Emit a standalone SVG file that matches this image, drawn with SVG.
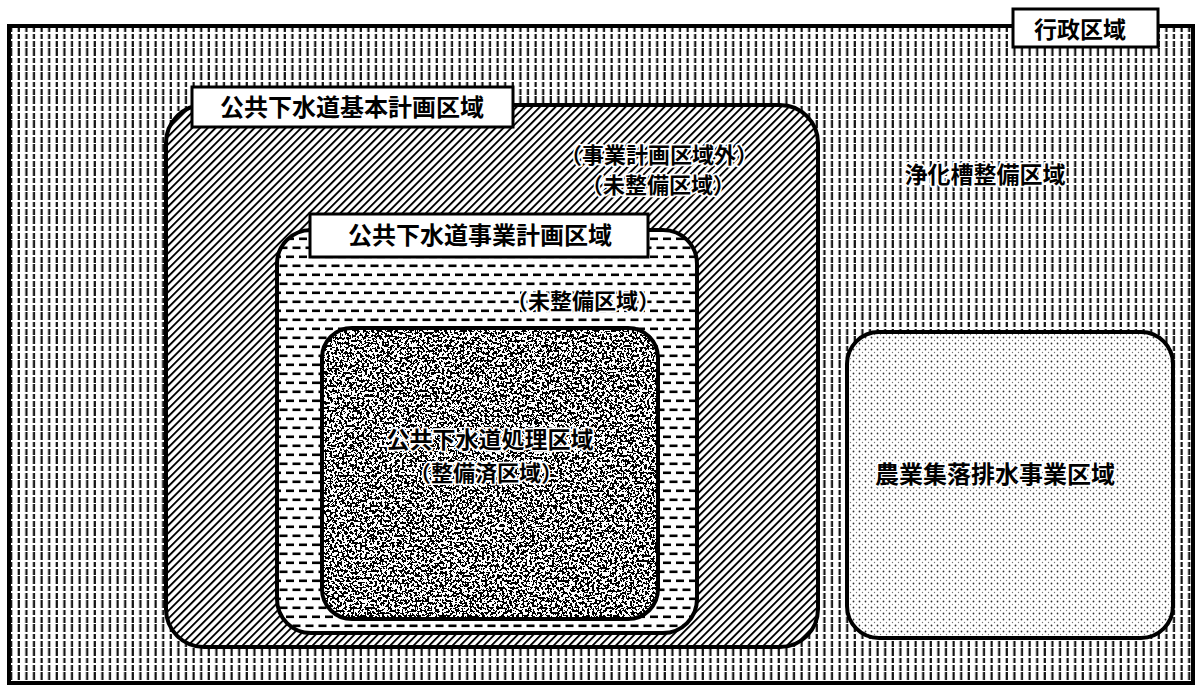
<svg xmlns="http://www.w3.org/2000/svg" width="1199" height="688" viewBox="0 0 1199 688">
<style>
.lbl{font-family:"Noto Sans CJK JP","Noto Sans CJK SC",sans-serif;font-weight:700;fill:#000;text-anchor:middle}
.halo{paint-order:stroke;stroke:#fff;stroke-width:3.5;stroke-linejoin:round}
.box{fill:#fff;stroke:#000;stroke-width:3}
.edge{stroke:#000;stroke-width:4}
</style>
<defs>
<pattern id="pVert" width="7.6" height="24" patternUnits="userSpaceOnUse">
<rect width="7.6" height="24" fill="#fff"/>
<rect x="2.5" y="0" width="2.2" height="8" fill="#111"/>
<rect x="2.5" y="10" width="2.2" height="5" fill="#111"/>
<rect x="2.5" y="17" width="2.2" height="6" fill="#111"/>
</pattern>
<pattern id="pDiag" width="5.5" height="10" patternUnits="userSpaceOnUse" patternTransform="rotate(45)">
<rect width="5.5" height="10" fill="#fff"/>
<rect x="0" y="0" width="1.9" height="10" fill="#000"/>
</pattern>
<pattern id="pDash" width="13" height="18" patternUnits="userSpaceOnUse">
<rect width="13" height="18" fill="#fff"/>
<rect x="0" y="3.5" width="8" height="2.6" fill="#000"/>
<rect x="6.5" y="12.5" width="8" height="2.6" fill="#000"/>
<rect x="-6.5" y="12.5" width="8" height="2.6" fill="#000"/>
</pattern>
<pattern id="pDot" width="6" height="6" patternUnits="userSpaceOnUse">
<rect width="6" height="6" fill="#fff"/>
<circle cx="1.5" cy="1.5" r="0.9" fill="#333"/>
<circle cx="4.5" cy="4.5" r="0.7" fill="#777"/>
</pattern>
<filter id="fNoise" x="0" y="0" width="100%" height="100%">
<feTurbulence type="fractalNoise" baseFrequency="0.4" numOctaves="2" seed="7" result="t"/>
<feColorMatrix in="t" type="matrix" values="1 0 0 0 0  1 0 0 0 0  1 0 0 0 0  0 0 0 0 1" result="g"/>
<feComponentTransfer in="g" result="bw">
<feFuncR type="discrete" tableValues="0 0 0 1 1 1"/>
<feFuncG type="discrete" tableValues="0 0 0 1 1 1"/>
<feFuncB type="discrete" tableValues="0 0 0 1 1 1"/>
</feComponentTransfer>
<feComposite in="bw" in2="SourceGraphic" operator="in"/>
</filter>
</defs>

<g id="gyosei">
<rect x="9" y="26" width="1184" height="657" fill="url(#pVert)" stroke="#000" stroke-width="4"/>
<rect class="box" x="1013" y="9" width="145" height="38"/>
<text class="lbl" x="1080" y="38" font-size="23">行政区域</text>
<text class="lbl halo" x="985" y="183" font-size="23">浄化槽整備区域</text>
</g>

<g id="kihon">
<rect class="edge" x="166" y="105" width="652" height="542" rx="38" fill="url(#pDiag)"/>
<rect class="box" x="192" y="87" width="321" height="40"/>
<text class="lbl" x="352" y="116" font-size="24">公共下水道基本計画区域</text>
<text class="lbl halo" x="659" y="163" font-size="22">（事業計画区域外）</text>
<text class="lbl halo" x="658" y="193" font-size="22">（未整備区域）</text>
</g>

<g id="jigyo">
<rect class="edge" x="277" y="230" width="420" height="403" rx="34" fill="url(#pDash)"/>
<rect class="box" x="310" y="214" width="338" height="43"/>
<text class="lbl" x="480" y="244" font-size="24">公共下水道事業計画区域</text>
<text class="lbl halo" x="583" y="309" font-size="22">（未整備区域）</text>
</g>

<g id="shori">
<rect x="322" y="328" width="336" height="291" rx="30" fill="#fff" filter="url(#fNoise)"/>
<rect class="edge" x="322" y="328" width="336" height="291" rx="30" fill="none"/>
<text class="lbl halo" x="490" y="448" font-size="23">公共下水道処理区域</text>
<text class="lbl halo" x="486" y="481" font-size="22">（整備済区域）</text>
</g>

<g id="nogyo">
<rect class="edge" x="847" y="332" width="326" height="306" rx="32" fill="url(#pDot)"/>
<text class="lbl halo" x="995" y="483" font-size="24">農業集落排水事業区域</text>
</g>

<g id="connectors"/>
</svg>
